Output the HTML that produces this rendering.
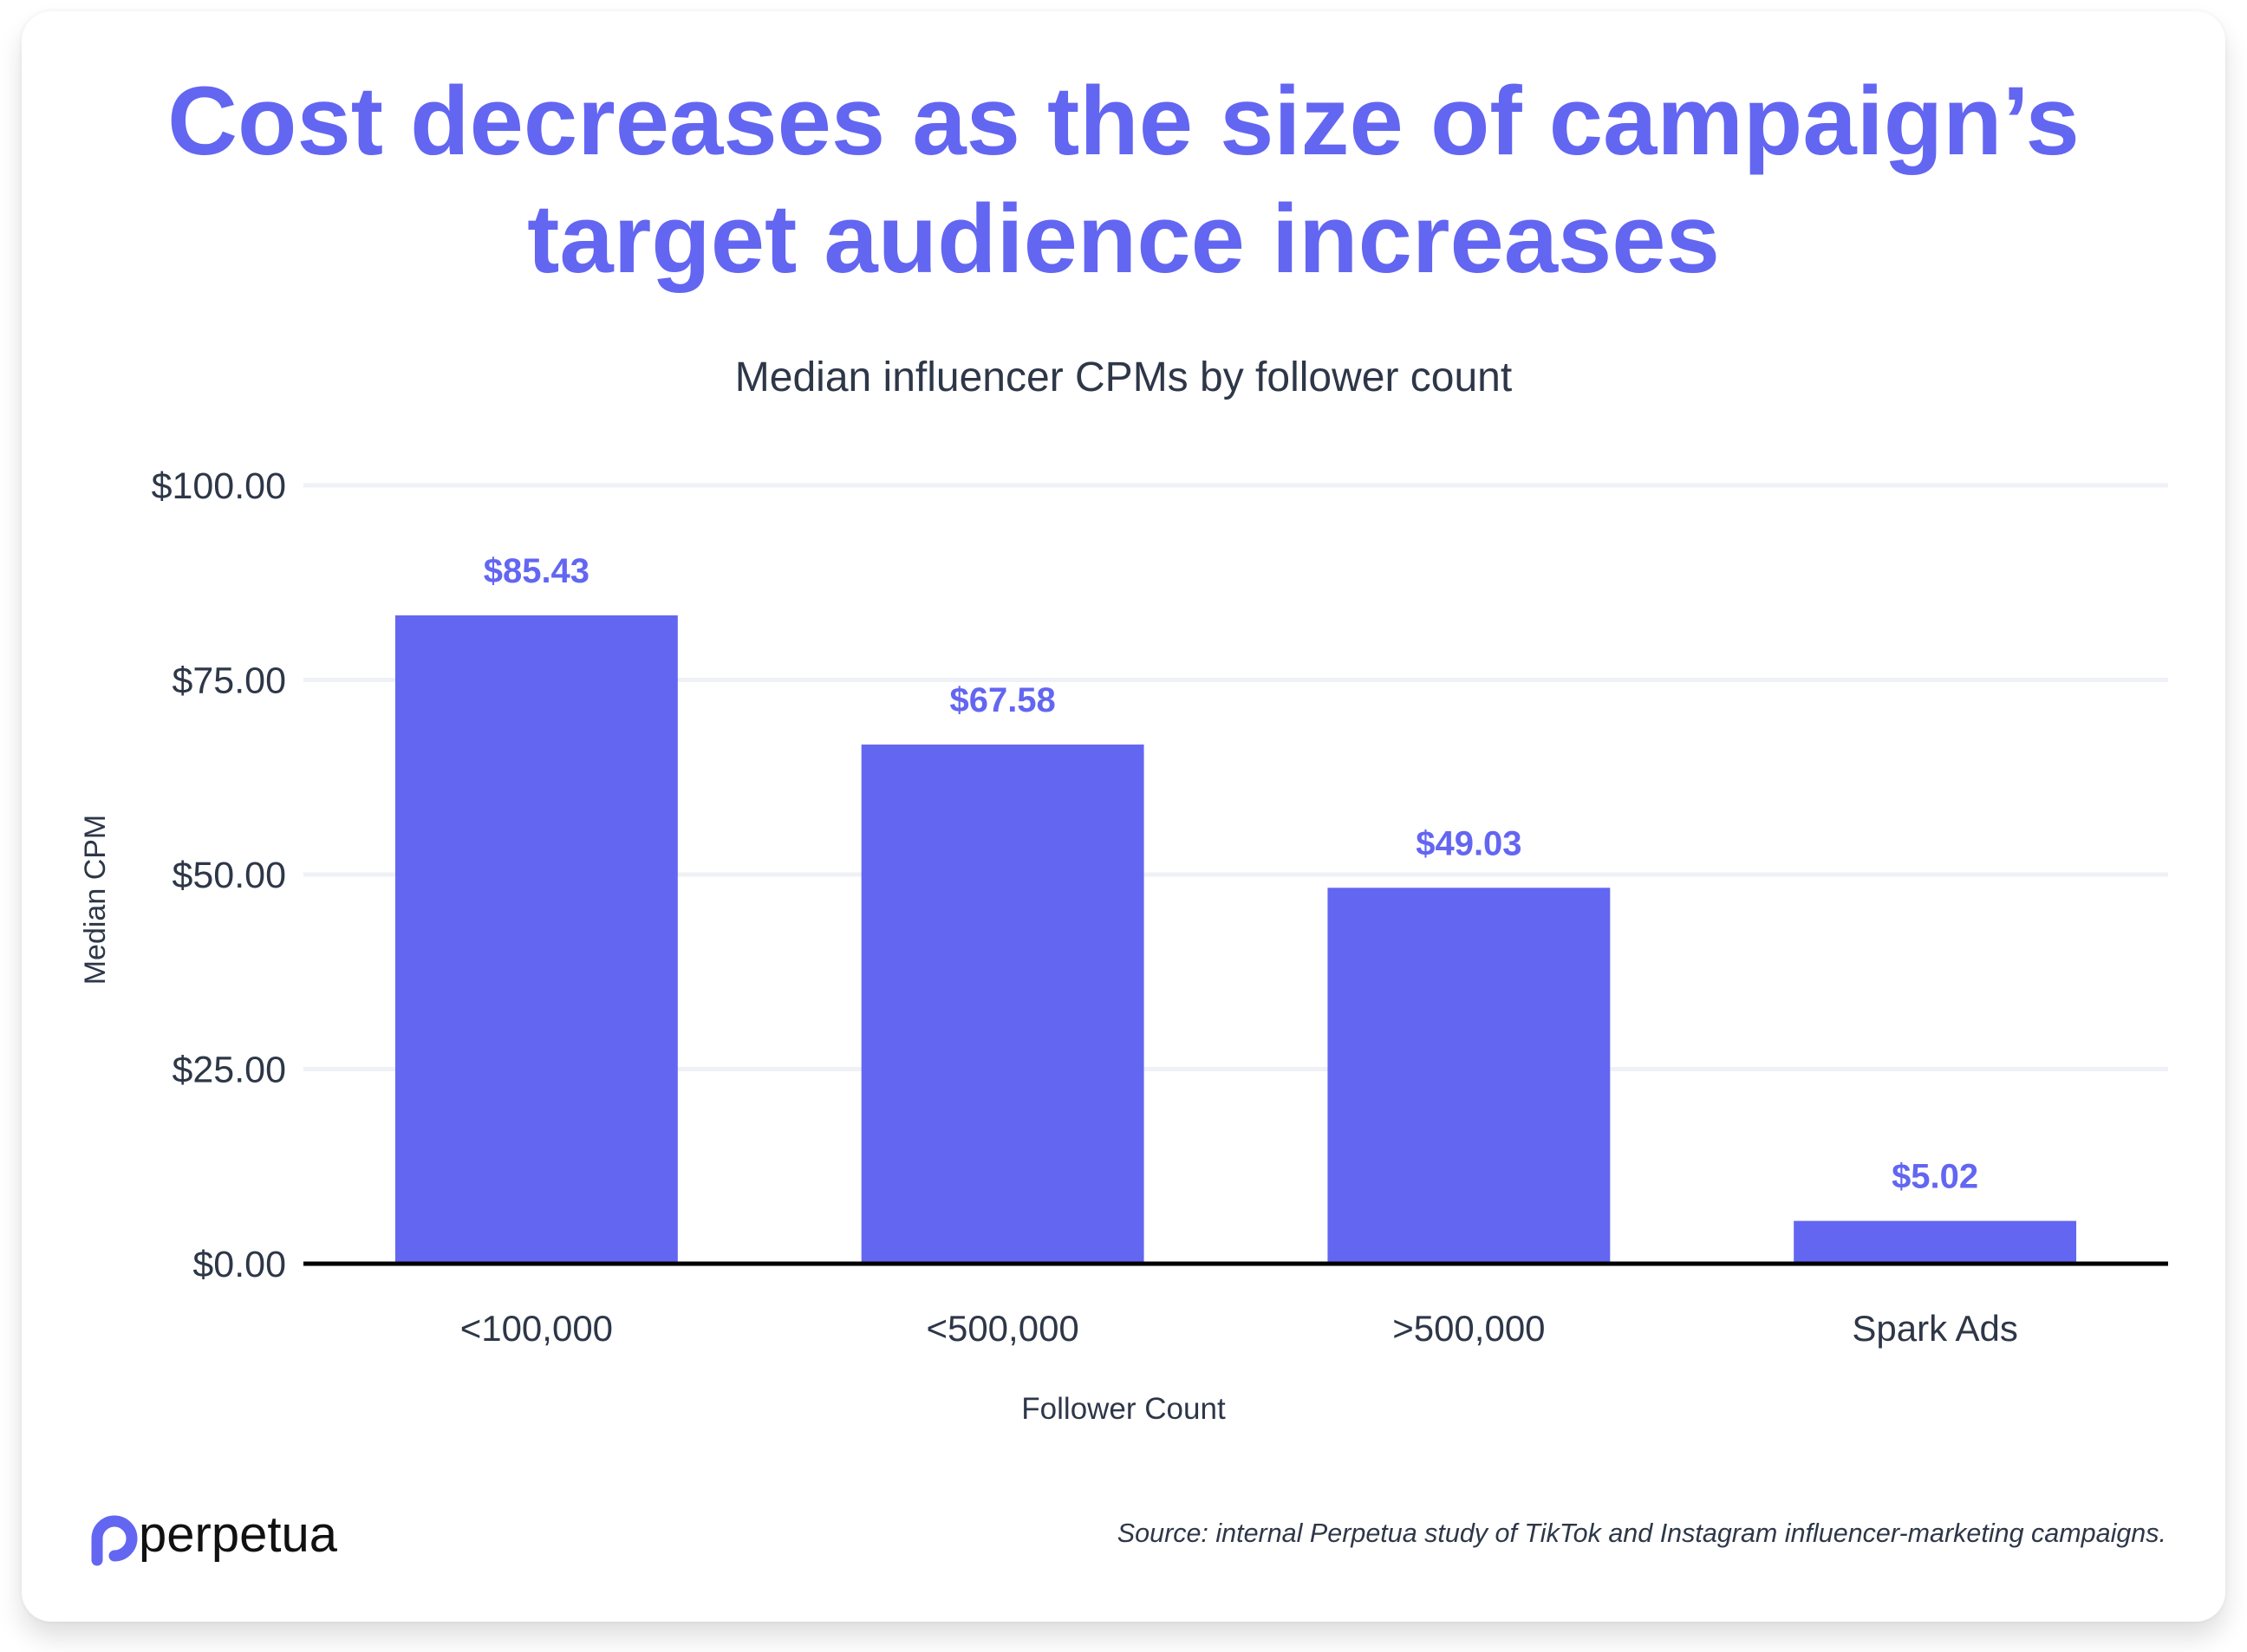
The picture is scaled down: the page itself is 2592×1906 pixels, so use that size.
<!DOCTYPE html>
<html><head><meta charset="utf-8"><style>
body{margin:0;width:2592px;height:1906px;background:#fff;font-family:"Liberation Sans",sans-serif;overflow:hidden}
#card{position:absolute;left:25px;top:13px;width:2542px;height:1858px;border-radius:34px;background:#fff;box-shadow:0 18px 30px rgba(0,0,0,0.13),0 0 6px rgba(0,0,0,0.06)}
</style></head><body>
<div id="card"></div>
<svg id="chart" width="2592" height="1906" style="position:absolute;left:0;top:0">
<text x="1296" y="178" text-anchor="middle" font-size="112" font-weight="bold" fill="#6366f1">Cost decreases as the size of campaign’s</text>
<text x="1296" y="314" text-anchor="middle" font-size="112" font-weight="bold" fill="#6366f1">target audience increases</text>
<text x="1296" y="451" text-anchor="middle" font-size="48" fill="#2d3748">Median influencer CPMs by follower count</text>
<g id="grid"></g><g id="bars"></g>
<text x="121" y="1038" text-anchor="middle" font-size="34" fill="#2d3748" transform="rotate(-90 121 1038)">Median CPM</text>
<text x="1296" y="1637" text-anchor="middle" font-size="35" fill="#2d3748">Follower Count</text>
<g>
<path d="M112 1800 L112 1775 A20 20 0 1 1 132 1795" fill="none" stroke="#6366f1" stroke-width="13" stroke-linecap="round"/>
<text x="160" y="1790" font-size="58" fill="#111">perpetua</text>
</g>
<text x="2499" y="1779" text-anchor="end" font-size="30.5" font-style="italic" fill="#2d3748">Source: internal Perpetua study of TikTok and Instagram influencer-marketing campaigns.</text>
</svg>
<script>
const categories=["<100,000","<500,000",">500,000","Spark Ads"];
const values=[83.3,66.7,48.3,5.5];
const valueLabels=["$85.43","$67.58","$49.03","$5.02"];
const ticks=[0,25,50,75,100];
const tickLabels=["$0.00","$25.00","$50.00","$75.00","$100.00"];
const NS="http://www.w3.org/2000/svg";
const x0=350,x1=2501,yTop=560,yBot=1458;
const y=v=>yBot-(v/100)*(yBot-yTop);
const band=(x1-x0)/categories.length;
const xc=i=>x0+band*(i+0.5);
function mk(tag,attrs,parent,txt){const e=document.createElementNS(NS,tag);for(const k in attrs)e.setAttribute(k,attrs[k]);if(txt!==undefined)e.textContent=txt;parent.appendChild(e);return e;}
const grid=document.getElementById('grid'),bars=document.getElementById('bars');
ticks.forEach((t,i)=>{
  if(t!==0){const l=mk('line',{x1:x0,x2:x1,y1:y(t),y2:y(t),stroke:'#eff1f7','stroke-width':5},grid);
  
  }
  const tx=mk('text',{x:330,y:y(t)+15,'text-anchor':'end','font-size':43,fill:'#2d3748'},grid,tickLabels[i]);
  
  
});
const bw=band*0.606;
categories.forEach((c,i)=>{
  const r=mk('rect',{x:xc(i)-bw/2,y:y(values[i]),width:bw,height:yBot-y(values[i]),fill:'#6366f1'},bars);
  
  
  const vl=mk('text',{x:xc(i),y:y(values[i])-38,'text-anchor':'middle','font-size':40,'font-weight':'bold',fill:'#6366f1'},bars,valueLabels[i]);
  
  
  const cl=mk('text',{x:xc(i),y:1547,'text-anchor':'middle','font-size':42,fill:'#2d3748'},bars,c);
  
  
});
const ax=mk('line',{x1:x0,x2:x1,y1:yBot,y2:yBot,stroke:'#000','stroke-width':5},bars);


</script>
</body></html>
